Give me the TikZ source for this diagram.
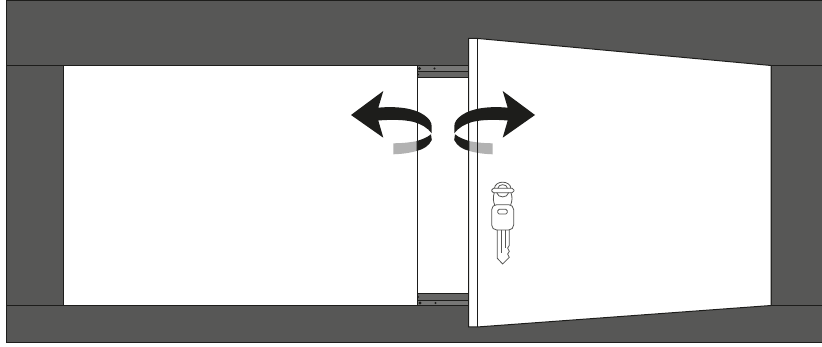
\documentclass[tikz,border=0pt]{standalone}
\usetikzlibrary{calc}

\definecolor{wallgrey}{HTML}{575756}
\definecolor{inkblack}{HTML}{1D1D1B}
\definecolor{railgrey}{HTML}{777776}
\definecolor{bandgrey}{HTML}{B2B2B2}

\begin{document}
\begin{tikzpicture}[
  x=1pt, y=-1pt,
  panel/.style={fill=white, draw=inkblack, line width=1pt},
  rail/.style={fill=railgrey, draw=inkblack, line width=0.9pt},
  keyline/.style={draw=inkblack!75, line width=0.8pt},
  swingback/.pic={
    \fill[bandgrey] (417.5,141) .. controls (408,142.8) and (400,143.3) .. (393.3,143.3)
      -- (393.3,154.3) .. controls (402,154) and (410,153) .. (417.5,150.7) -- cycle;
  },
  swingfront/.pic={
    \fill[inkblack] (431,134.3) .. controls (427,137.5) and (422,139.5) .. (416.7,141)
      -- (416.7,150.9) .. controls (423,149.5) and (429,146) .. (431.8,140) -- cycle;
    \fill[inkblack] (378.3,107.7) .. controls (396,106) and (414,108) .. (424,115)
      .. controls (429,118.5) and (432,122) .. (431.7,127) -- (431.7,133.3)
      .. controls (428,128) and (421,124) .. (414,122)
      .. controls (404,119.5) and (391,119.5) .. (378.3,120.5)
      -- (383.3,137.7) -- (351,115) -- (383.3,91) -- cycle;
  }
]
\useasboundingbox (0,0) rectangle (822,347);

% wall
\fill[wallgrey] (6,0) rectangle (822,342.5);
\draw[inkblack, line width=1pt] (822,0.4) -- (6,0.4) -- (6,342.5) -- (822,342.5);
\draw[inkblack, line width=1pt] (6,65.5) -- (822,65.5);
\draw[inkblack, line width=1pt] (6,305.5) -- (822,305.5);
\draw[inkblack, line width=1pt] (771,65.5) -- (771,305.5);

% opening and left door
\draw[panel] (63,65.5) rectangle (417,305.5);
\fill[white] (417,78) rectangle (468.5,293);

% rails
\draw[rail] (417,65.5) rectangle (468.5,71.5);
\draw[rail, fill=railgrey!85!black] (417,71.5) rectangle (468.5,77.7);
\draw[rail, fill=railgrey!85!black] (417,293.3) rectangle (468.5,300.7);
\draw[rail] (417,300.7) rectangle (468.5,305.5);
\fill[inkblack] (419.5,68.5) circle (1.6) (434.5,68.5) circle (1.1) (418.2,74.5) circle (0.8);
\fill[inkblack] (420,303) circle (1.6) (435.5,303) circle (1.1) (418.2,297) circle (0.8);

\pic at (0,0) {swingback};

% lines of the left door edge
\draw[inkblack, line width=1pt] (417,65.5) -- (417,305.5);

% right door
\draw[panel] (468.5,38.4) -- (477,38.4) -- (771,65.5) -- (771,305.5) -- (477,327) -- (468.5,327) -- cycle;
\pic[xscale=-1] at (886,0) {swingback};
\draw[inkblack, line width=1pt] (468.5,38.4) -- (468.5,327);
\draw[inkblack, line width=1pt] (477,38.4) -- (477,327);

\pic at (0,0) {swingfront};
\pic[xscale=-1] at (886,0) {swingfront};

% key
\begin{scope}[shift={(470,170)}, x=0.3333pt, y=-0.3333pt]
  \draw[keyline] (73,56) .. controls (75,30) and (121,30) .. (123,56);
  \draw[keyline] (83,56) .. controls (85,40) and (111,40) .. (113,56);
  \draw[keyline, fill=white, rounded corners=1.8pt] (65,55) rectangle (132,68);
  \draw[keyline] (80,68) .. controls (84,85) and (112,85) .. (116,68);
  \draw[keyline] (73,68) .. controls (68,82) and (70,95) .. (74,105);
  \draw[keyline] (123,68) .. controls (128,82) and (126,95) .. (122,105);
  \draw[keyline, rounded corners=5pt] (65,104) rectangle (131,180);
  \draw[keyline, rounded corners=1.5pt] (83,118) rectangle (112,132);
  \draw[keyline] (82,180) -- (82,265) -- (98,282) -- (118,262) -- (113,252) -- (118,244)
    -- (113,234) -- (118,226) -- (118,180);
  \draw[keyline] (95,180) -- (95,248);
  \draw[keyline] (105,180) -- (105,235);
\end{scope}

\end{tikzpicture}
\end{document}
